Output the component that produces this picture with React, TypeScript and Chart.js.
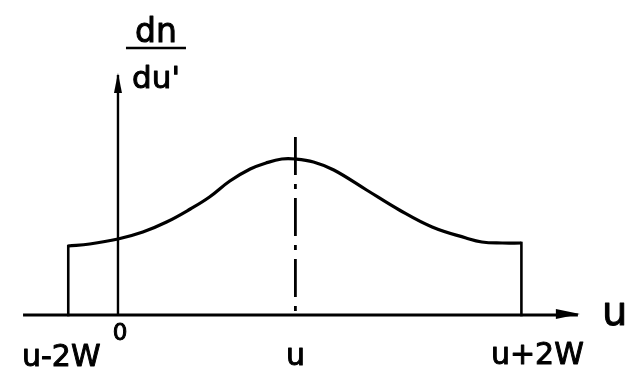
import React, { useEffect, useRef } from "react";
import { Chart, registerables } from "chart.js";

Chart.register(...registerables);

// Abscissa positions (units of W, origin at u' = 0)
const U_MINUS_2W = -0.44;
const U_CENTER = 1.57;
const U_PLUS_2W = 3.57;
const AXIS_X_START = -0.84;
const AXIS_X_END = 4.07;
const AXIS_Y_TOP = 2.4;

// Distribution dn/du' sampled along u'
const curveX = [-0.44, -0.25, 0, 0.22, 0.43, 0.64, 0.81, 0.99, 1.17, 1.31, 1.45, 1.57, 1.73, 1.91, 2.2, 2.49, 2.78, 3.08, 3.22, 3.4, 3.57];
const curveY = [0.69, 0.71, 0.76, 0.83, 0.93, 1.06, 1.18, 1.34, 1.46, 1.52, 1.56, 1.56, 1.53, 1.45, 1.25, 1.05, 0.88, 0.77, 0.73, 0.72, 0.72];

// Height of the dash-dot marker at u
const CENTER_LINE_TOP = 1.78;

// Tick labels on the u' axis
const tickValues = [U_MINUS_2W, 0, U_CENTER, U_PLUS_2W];
const tickLabels = ["u-2W", "0", "u", "u+2W"];

const INK = "#000";
const FONT = "'DejaVu Sans', sans-serif";

// Text with a slightly heavier pen stroke
function penText(ctx: CanvasRenderingContext2D, text: string, x: number, y: number) {
  ctx.fillText(text, x, y);
  ctx.strokeText(text, x, y);
}

const sketchPlugin = {
  id: "sketchAnnotations",
  afterDatasetsDraw(chart: any) {
    const { ctx, scales } = chart;
    const xs = scales.x;
    const ys = scales.y;
    const px = (v: number) => xs.getPixelForValue(v);
    const py = (v: number) => ys.getPixelForValue(v);

    ctx.save();
    ctx.fillStyle = INK;
    ctx.strokeStyle = INK;
    ctx.lineJoin = "round";

    // arrow on the vertical axis
    const ax = px(0);
    const ayTip = py(AXIS_Y_TOP);
    ctx.beginPath();
    ctx.moveTo(ax, ayTip - 2);
    ctx.lineTo(ax - 4, ayTip + 18);
    ctx.lineTo(ax + 4, ayTip + 18);
    ctx.closePath();
    ctx.fill();

    // arrow on the horizontal axis
    const bxTip = px(AXIS_X_END);
    const by = py(0);
    ctx.beginPath();
    ctx.moveTo(bxTip + 2, by - 1);
    ctx.lineTo(bxTip - 22, by - 6);
    ctx.lineTo(bxTip - 22, by + 4);
    ctx.closePath();
    ctx.fill();

    // tick labels
    const labelStyle = [
      { dx: -7, y: 366, size: 30 },
      { dx: 2, y: 340, size: 23 },
      { dx: 0, y: 365, size: 30 },
      { dx: 16, y: 364, size: 30 },
    ];
    ctx.lineWidth = 1;
    ctx.textAlign = "center";
    ctx.textBaseline = "alphabetic";
    tickValues.forEach((v, i) => {
      const s = labelStyle[i];
      ctx.font = `${s.size}px ${FONT}`;
      penText(ctx, tickLabels[i], px(v) + s.dx, s.y);
    });

    // axis name on the right
    ctx.textAlign = "left";
    ctx.font = `40px ${FONT}`;
    penText(ctx, "u", bxTip + 24, by + 10);

    // dn/du' fraction above the vertical axis
    const fx = ax + 38;
    ctx.textAlign = "center";
    ctx.font = `33px ${FONT}`;
    penText(ctx, "dn", fx, 42);
    ctx.lineWidth = 2.5;
    ctx.beginPath();
    ctx.moveTo(fx - 30, 48);
    ctx.lineTo(fx + 30, 48);
    ctx.stroke();
    ctx.lineWidth = 1;
    ctx.font = `31px ${FONT}`;
    penText(ctx, "du'", fx, 88);

    ctx.restore();
  },
};

export default function App() {
  const canvasRef = useRef<HTMLCanvasElement | null>(null);

  useEffect(() => {
    document.body.style.margin = "0";
    const canvas = canvasRef.current;
    if (!canvas) return;

    const pts = (xs: number[], ys: number[]) => xs.map((x, i) => ({ x, y: ys[i] }));
    const line = (color = INK, width = 2.6) => ({
      showLine: true,
      borderColor: color,
      borderWidth: width,
      pointRadius: 0,
      fill: false,
      tension: 0,
    });

    const chart = new Chart(canvas, {
      type: "scatter",
      data: {
        datasets: [
          {
            label: "x axis",
            data: pts([AXIS_X_START, AXIS_X_END], [0, 0]),
            ...line(INK, 2.8),
          },
          {
            label: "y axis",
            data: pts([0, 0], [0, AXIS_Y_TOP]),
            ...line(INK, 2.4),
          },
          {
            label: "left edge",
            data: pts([U_MINUS_2W, U_MINUS_2W], [0, curveY[0]]),
            ...line(INK, 2.6),
            borderCapStyle: "square",
          },
          {
            label: "right edge",
            data: pts([U_PLUS_2W, U_PLUS_2W], [0, curveY[curveY.length - 1]]),
            ...line(INK, 2.6),
            borderCapStyle: "square",
          },
          {
            label: "dn/du'",
            data: pts(curveX, curveY),
            ...line(INK, 3.2),
            tension: 0.4,
          },
          {
            label: "u",
            data: pts([U_CENTER, U_CENTER], [CENTER_LINE_TOP, 0]),
            ...line(INK, 2.8),
            borderDash: [38, 9, 5, 9],
          },
        ] as any,
      },
      options: {
        animation: false,
        responsive: false,
        maintainAspectRatio: false,
        layout: { padding: 0 },
        plugins: {
          legend: { display: false },
          tooltip: { enabled: false },
          title: { display: false },
        },
        scales: {
          x: { type: "linear", display: false, min: -1.044, max: 4.531 },
          y: { type: "linear", display: false, min: -0.55, max: 3.15 },
        },
      },
      plugins: [sketchPlugin],
    });

    return () => chart.destroy();
  }, []);

  return (
    <div style={{ width: 630, height: 370, background: "#fff" }}>
      <canvas ref={canvasRef} width={630} height={370} style={{ display: "block" }} />
    </div>
  );
}
